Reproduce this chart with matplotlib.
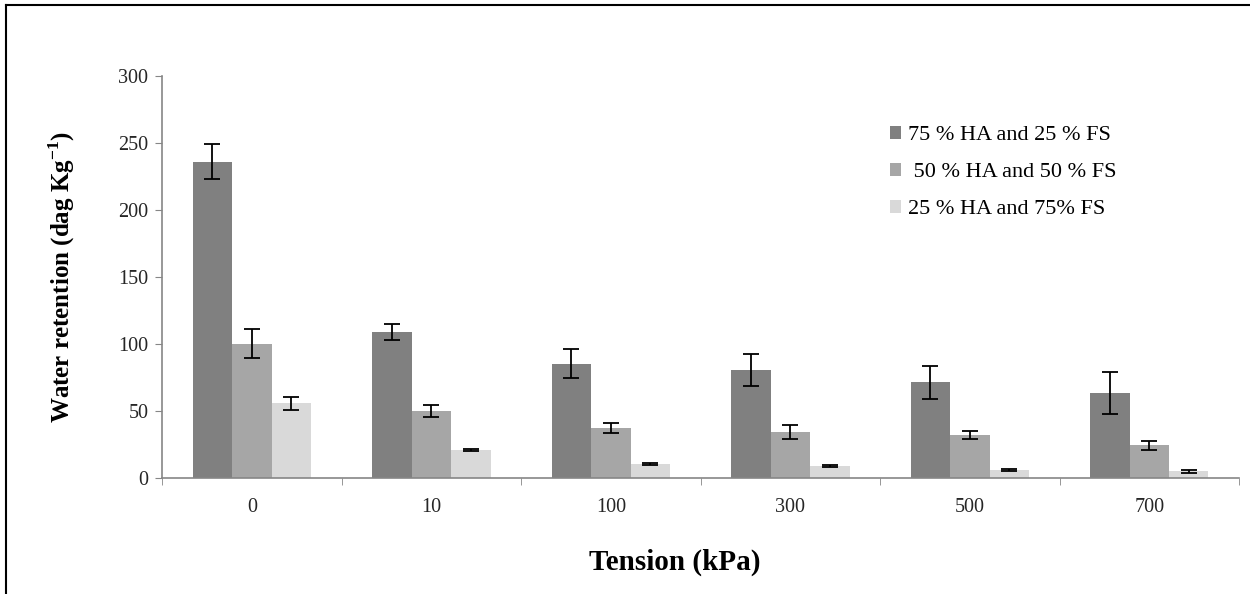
import numpy as np
import matplotlib.pyplot as plt
from matplotlib.lines import Line2D

tension = ['0', '10', '100', '300', '500', '700']
labels = ['75 % HA and 25 % FS', ' 50 % HA and 50 % FS', '25 % HA and 75% FS']
ha75 = [236, 109, 85, 80, 71, 63]
ha75_err = [13, 6, 11, 12, 12, 15.5]
ha50 = [100, 50, 37, 34, 32, 24]
ha50_err = [11, 4.5, 4, 5, 3, 3.5]
ha25 = [55.5, 20.5, 10, 8.5, 5.5, 4.5]
ha25_err = [5, 0.5, 0.5, 0.5, 0.5, 1.3]
colors = ['#808080', '#a6a6a6', '#d9d9d9']

plt.rcParams['font.family'] = ['Liberation Serif', 'DejaVu Serif']

fig = plt.figure(figsize=(12.5, 5.94), dpi=100)
ax = fig.add_axes([0.1298, 0.1961, 0.8614, 0.676])

x = np.arange(len(tension))
w = 0.22
series = [(ha75, ha75_err), (ha50, ha50_err), (ha25, ha25_err)]
for i, (vals, errs) in enumerate(series):
    ax.bar(x + (i - 1) * w, vals, w, color=colors[i], label=labels[i],
           yerr=errs, capsize=5.5,
           error_kw=dict(ecolor='black', elinewidth=1.3, capthick=1.3))

ax.set_xlim(-0.5, len(tension) - 0.5)
ax.set_ylim(0, 300)
ax.set_yticks(range(0, 301, 50))
ax.set_xticks(x)
ax.set_xticklabels(tension)
ax.set_xticks(np.arange(-0.5, len(tension), 1), minor=True)

for s in ['top', 'right']:
    ax.spines[s].set_visible(False)
for s in ['left', 'bottom']:
    ax.spines[s].set_color('#868686')
    ax.spines[s].set_linewidth(1.2)

ax.tick_params(axis='y', length=5, color='#868686', labelsize=14.5, pad=5, labelcolor='#262626')
ax.tick_params(axis='x', which='major', length=0, labelsize=14.5, pad=15, labelcolor='#262626')
ax.tick_params(axis='x', which='minor', length=5, color='#868686')

fig.text(62 / 1250, 1 - 277 / 594, 'Water retention (dag Kg$^{\\mathregular{-1}}$)',
         fontsize=18, fontweight='bold', rotation=90, ha='center', va='center')
fig.text(675 / 1250, 1 - 562 / 594, 'Tension (kPa)', fontsize=21, fontweight='bold',
         ha='center', va='center')

ax.legend(loc='upper left', bbox_to_anchor=(890 / 1250, 1 - 126 / 594),
          bbox_transform=fig.transFigure, frameon=False, fontsize=16,
          handlelength=0.5, handleheight=0.5, handletextpad=0.3,
          labelspacing=0.8, borderpad=0, borderaxespad=0)

# partial border of the original figure
fig.add_artist(Line2D([6 / 1250, 6 / 1250], [0, 1 - 5 / 594], color='black', lw=1.5,
                      transform=fig.transFigure))
fig.add_artist(Line2D([6 / 1250, 1], [1 - 5 / 594, 1 - 5 / 594], color='black', lw=1.5,
                      transform=fig.transFigure))

fig.savefig('out.png', dpi=100)
